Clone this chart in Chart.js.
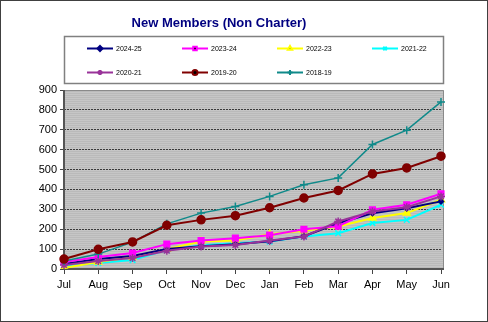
<!DOCTYPE html>
<html>
<head>
<meta charset="utf-8">
<script src="https://cdn.jsdelivr.net/npm/chart.js@4/dist/chart.umd.min.js"></script>
<style>
    html, body { margin: 0; padding: 0; background: #fff; }
    #wrap { position: relative; width: 488px; height: 322px; }
</style>
</head>
<body>
<div id="wrap"><canvas id="membersChart" width="488" height="322"></canvas></div>
<script>
// Monthly cumulative new members (non charter), by season
const months = ['Jul', 'Aug', 'Sep', 'Oct', 'Nov', 'Dec', 'Jan', 'Feb', 'Mar', 'Apr', 'May', 'Jun'];
const seasons = ['2024-25', '2023-24', '2022-23', '2021-22', '2020-21', '2019-20', '2018-19'];

const members2425 = [25, 50, 65, 100, 115, 125, 140, 165, 230, 280, 305, 340];
const members2324 = [35, 60, 80, 125, 143, 155, 170, 200, 215, 298, 323, 378];
const members2223 = [5, 35, 60, 100, 138, 143, 175, 192, 214, 256, 281, 348];
const members2122 = [15, 30, 45, 95, 120, 130, 138, 163, 180, 231, 247, 323];
const members2021 = [20, 40, 55, 92, 113, 121, 143, 163, 239, 289, 311, 365];
const members1920 = [50, 99, 136, 220, 247, 268, 308, 357, 395, 478, 508, 567];
const members1819 = [40, 75, 135, 227, 281, 314, 365, 424, 458, 626, 698, 840];

const yTicks = [0, 100, 200, 300, 400, 500, 600, 700, 800, 900];

const seriesValues = [members2425, members2324, members2223, members2122, members2021, members1920, members1819];
const seriesColors = ['#000080', '#ff00ff', '#ffff00', '#00ffff', '#993399', '#800000', '#108a8a'];
const seriesPoints = ['rectRot', 'rect', 'triangle', 'crossRot', 'star', 'circle', 'cross'];
const pointSizes = [2.5, 4, 4, 4, 4, 4, 4];

// Excel-ish striped grey plot fill
function stripes(ctx) {
    const c = document.createElement('canvas');
    c.width = 4; c.height = 2;
    const g = c.getContext('2d');
    g.fillStyle = '#c6c6c6'; g.fillRect(0, 0, 4, 1);
    g.fillStyle = '#bababa'; g.fillRect(0, 1, 4, 1);
    return ctx.createPattern(c, 'repeat');
}

const frame = {
    id: 'frame',
    beforeDraw(chart) {
        const { ctx, chartArea: a } = chart;
        ctx.save();
        ctx.fillStyle = '#fff';
        ctx.fillRect(0, 0, chart.width, chart.height);
        ctx.fillStyle = stripes(ctx);
        ctx.fillRect(a.left, a.top, a.right - a.left + 3, a.bottom - a.top);
        ctx.restore();
    },
    beforeDatasetsDraw(chart) {
        const { ctx, chartArea: a } = chart;
        ctx.save();
        // light border on top/right, heavier axis lines left/bottom
        ctx.strokeStyle = '#8a8a8a';
        ctx.lineWidth = 1;
        ctx.beginPath();
        ctx.moveTo(a.left, a.top + 0.5);
        ctx.lineTo(a.right + 2.5, a.top + 0.5);
        ctx.lineTo(a.right + 2.5, a.bottom);
        ctx.stroke();
        ctx.strokeStyle = '#555';
        ctx.lineWidth = 2;
        ctx.beginPath();
        ctx.moveTo(a.left, a.top);
        ctx.lineTo(a.left, a.bottom);
        ctx.lineTo(a.right + 3, a.bottom);
        ctx.stroke();
        ctx.restore();
    },
    afterDraw(chart) {
        const ctx = chart.ctx;
        ctx.save();
        // outer border
        ctx.strokeStyle = '#404040';
        ctx.lineWidth = 1;
        ctx.strokeRect(0.5, 0.5, chart.width - 1, chart.height - 1);

        // title
        ctx.fillStyle = '#000080';
        ctx.font = 'bold 13px "Liberation Sans", Arial, sans-serif';
        ctx.textAlign = 'center';
        ctx.textBaseline = 'middle';
        ctx.fillText('New Members (Non Charter)', 219, 23);

        // legend box
        ctx.strokeStyle = '#808080';
        ctx.lineWidth = 1.5;
        ctx.strokeRect(64.5, 36.5, 379, 47);

        ctx.font = '7px "Liberation Sans", Arial, sans-serif';
        ctx.textAlign = 'left';
        chart.data.datasets.forEach((ds, i) => {
            const x = 87 + (i % 4) * 95;
            const y = 48.5 + Math.floor(i / 4) * 24;
            ctx.strokeStyle = ds.borderColor;
            ctx.lineWidth = 2;
            ctx.beginPath();
            ctx.moveTo(x, y);
            ctx.lineTo(x + 26, y);
            ctx.stroke();
            Chart.helpers.drawPoint(ctx, {
                pointStyle: ds.pointStyle,
                radius: Math.min(ds.pointRadius, 2.5),
                borderWidth: 1
            }, x + 13, y);
            ctx.fillStyle = '#000';
            ctx.fillText(ds.label, x + 29, y + 0.5);
        });
        ctx.restore();
    }
};

const datasets = seasons.map((label, i) => ({
    label: label,
    data: seriesValues[i],
    borderColor: seriesColors[i],
    backgroundColor: seriesColors[i],
    pointStyle: seriesPoints[i],
    pointRadius: pointSizes[i],
    pointBorderWidth: 1.5,
    borderWidth: i === 6 ? 1.5 : 2,
    tension: 0,
    fill: false,
    order: [3, 2, 4, 5, 1, 0, 0][i]
}));

new Chart(document.getElementById('membersChart'), {
    type: 'line',
    data: { labels: months, datasets: datasets },
    options: {
        responsive: false,
        animation: false,
        layout: { padding: { top: 90, right: 47, left: 0, bottom: 0 } },
        plugins: {
            legend: { display: false },
            title: { display: false },
            tooltip: { enabled: false }
        },
        scales: {
            x: {
                offset: false,
                afterFit: (s) => { s.height = 53; },
                border: { display: false },
                grid: {
                    drawOnChartArea: false,
                    tickLength: 5,
                    tickColor: '#444',
                    lineWidth: 1
                },
                ticks: {
                    color: '#000',
                    padding: 4,
                    maxRotation: 0,
                    autoSkip: false,
                    font: { family: '"Liberation Sans", Arial, sans-serif', size: 11 }
                }
            },
            y: {
                min: 0,
                max: 900,
                afterFit: (s) => { s.width = 64; },
                afterBuildTicks: (s) => { s.ticks = yTicks.map(v => ({ value: v })); },
                border: { display: false, dash: [2, 1] },
                grid: {
                    color: (c) => (c.tick.value === 0 || c.tick.value === 900) ? 'rgba(0,0,0,0)' : '#3a3a3a',
                    lineWidth: 1,
                    tickLength: 4,
                    tickColor: '#444',
                    tickBorderDash: [],
                    tickWidth: 1
                },
                ticks: {
                    color: '#000',
                    padding: 3,
                    font: { family: '"Liberation Sans", Arial, sans-serif', size: 11 }
                }
            }
        }
    },
    plugins: [frame]
});
</script>
</body>
</html>
